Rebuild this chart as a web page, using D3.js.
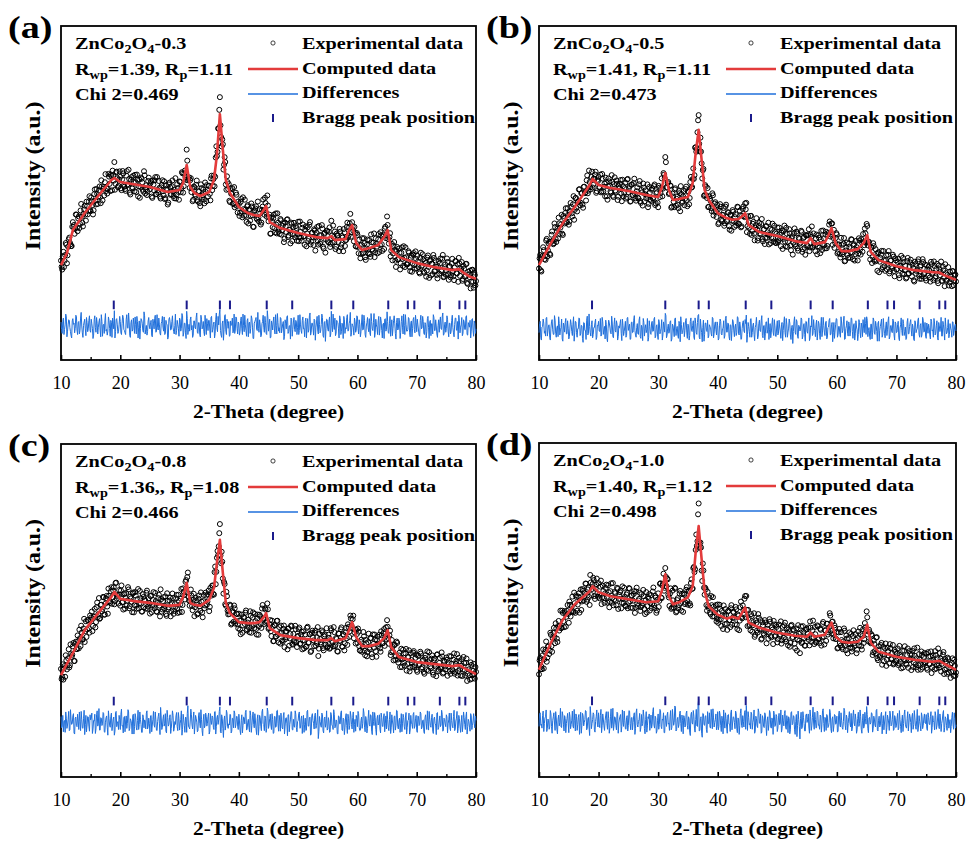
<!DOCTYPE html>
<html><head><meta charset="utf-8">
<script src="https://cdn.jsdelivr.net/npm/d3@7"></script>
<style>body{margin:0;background:#fff}svg{display:block}</style>
</head><body>
<svg id="chart" width="968" height="843"></svg>
<script>
// ---------------- data ----------------
const xTicks = [10, 20, 30, 40, 50, 60, 70, 80];
const xMinorTicks = [15, 25, 35, 45, 55, 65, 75];
const braggPositions = [18.9, 31.2, 36.8, 38.5, 44.7, 49.0, 55.6, 59.3, 65.2, 68.5, 69.6, 73.9, 77.2, 78.2];

const calcX = [10,11,12,14,16,18.5,19,20,22,25,28,30,30.6,31.2,31.8,32.5,33.5,35,35.8,36.3,36.8,37.3,37.8,38.5,40,41.5,42.5,43.5,44.2,44.6,45.2,47,50,53,55,55.6,56.2,58,58.6,59.1,59.8,60.8,62,63.5,64.5,65.1,65.7,67,70,73,76,77.2,78,79,80];
const calcA = [284,320,389,440,485,539,545,533,527,518,503,509,530,584,518,500,491,503,539,614,736,629,539,500,458,440,434,431,449,461,413,395,380,368,365,371,359,362,389,404,350,329,335,344,368,389,329,308,290,278,269,272,260,249,243];
const calcB = [284,317,350,410,458,524,542,524,515,506,494,488,515,560,509,479,482,488,530,620,689,599,509,479,440,425,420,422,432,440,404,383,371,356,350,365,347,353,374,395,350,326,326,332,350,374,323,299,281,269,263,262,254,247,240];
const calcC = [306,340,372,441,486,541,556,535,529,523,514,517,541,583,523,517,514,532,568,643,712,613,523,492,465,462,462,465,480,492,447,426,417,411,411,417,408,417,441,465,420,393,393,400,417,441,390,360,345,339,333,336,327,318,309];
const calcD = [321,362,402,471,517,556,571,553,541,532,523,526,556,607,541,517,523,538,571,673,751,652,556,511,486,474,480,474,495,508,462,447,432,423,420,432,420,426,447,462,420,405,402,405,420,456,402,375,360,351,345,348,339,330,321];

// differences (obs - calc), recorded in steps of DIFF_UNIT intensity units.
// diffX: points at 10.0, 10.2, ..., 80.0 ; diffX2: points at 10.1, 10.3, ..., 79.9
const DIFF_UNIT = 1.7;
const diffA = [
8,-12,15,-5,22,-18,3,11,-9,-20,14,6,-3,18,-14,9,-7,25,-11,2,13,-16,7,-4,19,
-10,5,-21,12,-2,16,-13,8,-6,21,-17,4,10,-8,-15,17,-3,11,-19,6,28,-9,14,-12,3,
9,-14,20,-5,-11,13,-2,24,-16,7,-8,15,-12,4,18,-20,10,-3,12,-7,26,-13,2,-9,16,
-4,11,-18,6,14,-10,21,-6,3,-15,9,-1,17,-12,5,-22,13,8,-5,19,-9,2,-14,11,-3,
15,-8,23,-17,6,-11,27,-14,4,12,-6,-19,10,-2,16,-10,7,-13,20,-4,9,-16,3,14,-7,
11,-20,18,-5,8,-12,24,-9,3,30,-15,6,-24,19,-8,13,-3,-17,10,4,-11,22,-6,15,-13,
5,-9,17,-14,2,20,-7,11,-18,8,-3,14,-21,6,12,-5,25,-10,3,-16,9,-1,18,-12,28,
-8,13,-19,4,10,-6,21,-13,7,-2,16,-11,5,-23,12,-4,19,-9,2,15,-17,8,-5,11,-14,
20,-7,3,-12,17,-3,9,-20,14,-6,24,-10,6,-15,11,-1,18,-13,4,-8,22,-16,7,-26,13,
-5,10,-18,27,-9,3,15,-12,8,-4,19,-14,6,-21,12,-2,16,-8,5,25,-11,2,-15,9,-6,
17,-13,4,-9,21,-5,11,-19,7,-2,14,-16,9,-7,23,-11,3,-14,18,-4,10,-20,6,13,-8,
26,-10,5,-17,12,-3,19,-12,7,-6,15,-21,9,-1,22,-14,4,-8,16,-11,6,-18,13,-5,20,
-9,3,-15,11,-4,18,-12,7,-20,14,-2,9,-16,5,21,-7,12,-13,2,-10,17,-5,24,-14,8,
-3,13,-18,6,-9,20,-11,4,15,-7,-22,10,-1,16,-12,8,-5,19,-15,3,11,-8,14,-17,6,
-4];
const diffA2 = [
-5,9,-14,3,17,-8,12,-2,-16,10,4,-11,20,-6,7,-13,15,1,-19,8,-4,16,-9,11,-7,
13,-3,-15,19,-10,6,-1,14,-18,9,2,-12,23,-5,-8,11,-17,7,15,-4,-20,12,3,-9,18,
-11,5,16,-7,-14,21,-3,8,-19,12,-6,4,17,-13,9,-2,-22,14,6,-10,19,-5,-15,10,1,
7,-16,13,-4,20,-9,-2,15,-12,5,18,-8,-14,11,3,-19,16,-6,9,-1,-13,22,-7,4,-17,
12,-3,19,-11,6,-21,14,-5,-8,17,2,-15,10,-4,24,-12,7,-18,13,-1,-9,20,-14,5,11,
-6,16,-10,4,-20,13,-2,18,22,-7,-19,10,-5,21,-14,6,9,-16,2,15,-8,-12,17,-3,8,
-15,11,-4,22,-9,3,-17,14,6,-12,19,-1,-21,9,16,-7,-3,12,-18,5,20,-10,7,-14,15,
4,-20,10,-6,17,-13,2,23,-8,-11,14,-3,9,-17,6,18,-12,1,-22,13,-5,16,-9,8,-2,
-14,21,-7,11,-4,-18,15,3,-10,19,-15,6,-1,13,-24,8,-6,20,-11,4,16,-19,9,-3,12,
-8,17,-13,2,22,-5,-16,11,7,-20,14,-9,3,18,-12,-4,21,-7,10,-17,5,-1,15,-10,19,
-3,12,-18,8,-6,20,-14,1,16,-9,-11,23,-4,7,-19,13,-2,10,-15,17,-7,4,-21,14,-5,
9,-12,18,-1,-16,11,6,-22,15,-4,8,-10,19,-13,2,21,-8,-5,14,-18,10,-3,16,-11,7,
13,-6,-17,20,-2,9,-14,4,-9,18,-21,11,5,-13,16,-7,1,-19,12,8,-4,17,-15,3,-10,
19,-8,6,-13,11,-2,-18,15,-6,9,20,-11,3,-16,12,-5,18,-14,7,-1,-20,13,-7,10,-12];
const diffB = [
-6,14,-19,5,11,-3,20,-12,7,-15,2,17,-9,24,-7,3,-13,10,-1,18,-21,6,12,-8,15,
-17,4,9,-11,22,-5,13,-14,1,19,-8,6,-23,11,-2,16,-10,27,-6,8,-15,3,12,-18,7,
14,-4,-12,21,-9,5,16,-16,2,11,-6,23,-13,8,-3,15,-19,6,10,-7,18,-11,4,-14,20,
-2,9,-17,13,-5,24,-10,3,-8,16,-13,7,-20,12,1,-6,19,-15,5,-9,14,-3,21,-12,8,
-18,11,-4,17,-10,6,28,-15,2,-7,13,-21,9,-3,18,-11,5,-16,10,22,-8,3,-13,15,-5,
9,-19,14,-2,7,-14,20,-6,12,26,-17,4,-22,16,-9,11,-4,-15,8,3,-12,19,-7,13,-10,
6,-16,18,-8,1,15,-11,23,-5,10,-19,7,-2,14,-13,9,-6,21,-10,4,-17,12,-3,17,25,
-9,5,-14,19,-6,11,-20,8,2,-12,16,-4,24,-15,7,-8,13,-1,-18,10,-5,20,-11,6,-13,
15,-7,4,-16,12,-2,22,-14,9,-5,18,-10,3,-25,13,-6,17,-12,7,-3,20,-17,8,-9,14,
-4,11,-20,6,24,-8,2,-13,16,-5,10,-18,21,-3,7,-11,14,-15,4,19,-9,12,-6,-16,9,
18,-10,5,-14,11,-2,23,-17,6,-7,13,-12,20,-4,8,-19,15,-1,-9,12,-15,4,17,-6,10,
22,-13,3,-18,9,-5,16,-9,7,-21,14,-2,11,-14,19,-7,4,-11,15,-17,6,-3,18,-10,13,
-6,8,-15,2,20,-11,10,-4,-18,13,-8,5,17,-12,3,-20,11,-1,16,-9,7,-14,21,-5,12,
-16,4,9,-10,18,-3,-14,11,-7,15,-19,6,2,-12,14,-5,20,-8,3,-15,10,-2,13,-11,7,
-3];
const diffB2 = [
10,-15,4,18,-7,-12,21,-3,8,-19,13,-1,-9,16,-14,6,22,-10,3,-17,11,-5,19,-8,2,
-13,17,-4,9,-21,14,-6,1,20,-11,7,-16,12,-2,-18,23,-7,5,-12,15,-9,3,18,-14,6,
-3,19,-10,13,-1,-17,8,-22,16,4,-8,11,-15,20,-5,9,-13,2,17,-20,7,-4,14,-11,21,
5,-18,12,-6,16,-2,-14,10,-9,22,-16,3,19,-12,8,-1,-21,15,-7,11,-4,18,-15,6,-10,
17,-8,2,-19,13,-5,24,-11,9,-3,15,-17,6,-13,20,1,-10,14,-22,8,-6,12,-2,19,-16,
7,-11,20,-4,15,-18,10,-9,25,-14,18,-6,3,-21,11,-2,16,-12,5,-8,21,-15,9,-1,13,
-19,6,14,-10,2,-16,19,-5,11,-13,8,-20,17,-3,4,-11,22,-8,13,-18,1,15,-6,10,-23,
12,-4,18,-14,7,-9,3,21,-17,10,-2,15,-11,6,-19,13,-7,20,-1,-15,9,-5,17,-12,4,
-10,16,-3,8,-20,12,-6,19,-14,2,11,-18,7,-4,22,-9,14,-16,5,-1,18,-12,10,-21,13,
-7,20,-15,4,-11,17,-2,9,-19,14,-8,6,-13,21,-5,11,-17,3,16,-10,8,-22,12,-3,19,
-14,5,-9,22,-6,13,-18,1,15,-12,7,-3,19,-16,10,-8,4,-20,17,-5,11,-13,2,21,-9,
16,-2,-12,9,-17,20,-7,14,-4,11,-21,5,18,-10,3,-15,13,-1,22,-13,7,-6,15,-19,10,
-5,14,-20,8,-2,17,-11,4,-16,19,-8,12,-3,9,-18,15,-6,1,20,-14,10,-9,16,-4,-12,
11,-7,3,-17,14,-1,19,-10,6,-15,12,-4,21,-12,8,-19,5,-6,17,-9,2,-14,13,-3,9];
const diffC = [
11,-7,-16,4,19,-10,6,-14,23,-3,12,-18,8,-5,15,-12,2,20,-9,7,-21,13,-4,10,-15,
5,17,-11,3,-19,14,-6,25,-13,8,-2,16,-17,9,-8,21,-4,11,-14,6,-22,18,-7,2,13,
-12,24,-5,9,-16,12,-1,19,-10,4,-20,15,-7,10,-13,22,-3,6,-17,14,-9,3,17,-11,8,
-19,13,-4,20,-8,5,-14,11,-2,27,-12,7,-6,16,-18,9,-3,14,-10,21,-15,2,12,-7,18,
-13,6,-22,15,-5,10,-17,30,-8,3,14,-11,19,-4,8,-16,12,-1,23,-14,5,-9,17,-6,11,
-20,16,-3,9,-12,20,-7,13,5,28,-18,8,-26,12,-5,17,-10,-4,14,-15,7,21,-9,11,-6,
15,-13,4,-18,10,-2,22,-11,6,-16,13,-5,19,-9,3,-21,14,-7,9,-14,24,-3,12,-17,26,
-10,7,-4,16,-19,11,-8,21,-2,13,-15,5,-11,18,-6,9,-23,14,-3,20,-12,6,-8,15,-16,
4,19,-9,12,-3,-17,8,-13,22,-6,10,-20,16,-1,13,-10,5,-28,11,-4,17,-14,7,-8,21,
-11,3,-16,14,-6,23,-9,5,-19,12,-2,18,-13,8,-21,10,-5,15,-12,20,-3,9,-17,6,13,
-7,16,-14,4,-10,25,-8,11,-18,7,-3,14,-15,19,-5,9,-22,13,-1,-11,17,-6,10,-16,12,
20,-9,6,-19,14,-4,11,-13,22,-7,3,-17,16,-2,9,-12,18,-8,5,-20,13,-3,15,-10,7,
-14,12,-5,19,-11,4,-16,9,-1,21,-13,6,-8,15,-19,10,-4,17,-12,3,-7,22,-15,8,-2,
14,-18,5,-9,17,-6,11,-14,3,20,-10,7,-17,13,-4,9,-12,19,-7,2,-15,12,-5,16,-9,
4];
const diffC2 = [
-9,13,2,-17,8,-4,20,-12,5,-1,16,-20,10,-7,3,19,-14,6,-10,22,-3,-16,11,-6,14,
8,-19,4,15,-11,21,-2,-13,9,-5,18,-16,1,12,-22,7,-8,17,-4,10,-15,20,-1,-12,6,
15,-6,-18,11,3,-10,23,-14,7,-2,13,-20,16,-8,4,-12,19,-3,-17,9,5,-11,21,-7,-1,
12,-16,6,-4,19,-13,2,17,-21,10,-8,14,-1,-15,22,-6,9,-19,4,13,-10,-3,18,-14,7,
-2,21,-12,5,-17,9,16,-7,-11,24,-4,8,-20,13,1,-14,18,-9,6,-23,15,-5,11,-1,17,
-15,4,12,-8,19,-20,9,-3,20,-16,14,-10,5,-13,22,-6,-2,15,-18,8,-9,17,-4,11,-12,
3,-21,14,-5,9,18,-13,1,-8,21,-17,10,-3,16,-11,7,-22,13,-6,19,-1,-14,8,-10,20,
-4,15,-12,6,-18,11,-7,22,-15,3,17,-9,12,-20,8,-2,14,-16,5,19,-13,-6,21,-8,2,
16,-10,7,-19,13,-3,-14,20,-6,9,-22,12,4,-11,17,-5,23,-15,2,-8,14,-18,10,-1,-13,
9,-17,18,-4,-12,15,-7,3,-20,11,-2,21,-14,6,-9,16,-19,8,-5,12,-11,19,-3,-15,7,
20,-8,-13,10,-1,17,-16,5,-10,22,-6,13,-21,2,18,-12,7,-4,14,-18,9,-7,16,-2,-11,
6,-14,19,-9,3,-18,12,-5,21,-11,8,-1,-16,15,-7,10,-20,4,17,-13,1,-10,18,-6,13,
-17,11,-3,16,-8,5,-19,14,-12,2,20,-5,9,-15,7,-1,-21,18,-9,12,-4,15,-13,6,-7,
10,-2,17,-14,4,-9,22,-11,8,-18,13,-6,1,-16,19,-3,11,-20,6,-8,16,-12,3,-1,12];
const diffD = [
-8,16,-4,11,-17,7,21,-12,3,-9,14,-20,9,-2,18,-13,5,-7,24,-10,12,-16,6,-3,15,
-19,10,-5,19,-11,2,14,-15,8,-22,17,-6,11,-1,20,-14,6,-9,27,-12,4,13,-18,9,-4,
16,-10,22,-7,5,-15,12,-3,18,-20,9,-11,24,-5,7,-14,15,-2,10,-18,21,-8,3,-13,11,
-6,19,-14,8,-1,16,-12,23,-9,4,-17,13,-3,10,-21,18,-7,6,-15,12,-4,25,-11,7,-16,
14,-5,20,-12,3,-19,11,-8,17,-2,9,-14,22,-6,28,-16,5,-10,15,-3,12,-21,8,-7,19,
-13,6,-24,17,-4,10,-18,22,-8,40,-15,9,-27,14,-6,11,-19,-3,16,-11,7,23,-9,4,-14,
18,-8,12,-17,3,21,-11,6,-20,13,-4,16,-14,9,-1,19,-12,7,-22,15,-6,11,-9,20,29,
-15,8,-3,17,-13,5,-20,10,-7,23,-2,14,-18,6,-10,12,-24,9,-4,16,-11,3,19,-8,13,
-17,7,-5,21,-12,2,15,-9,11,-19,6,-14,18,-3,9,-22,13,-6,4,-30,17,-10,8,-16,12,
-1,14,-20,9,-7,26,-13,4,-10,17,-5,12,-18,20,-3,8,-15,11,-8,22,-12,5,-17,13,-4,
10,-16,19,-9,3,-13,24,-6,12,-19,8,-2,15,-11,21,-7,4,-14,17,-3,9,-20,14,-8,6,
27,-12,7,-4,16,-18,10,-6,20,-14,3,-9,13,-21,11,-2,18,-10,6,-15,12,-5,19,-13,8,
-7,15,-11,4,-19,12,-3,21,-9,6,-16,14,-1,9,-13,20,-8,3,-17,11,-6,16,-12,7,-2,
13,-15,8,-5,18,-10,2,-14,11,-7,22,-12,5,-3,15,-18,9,-6,14,-11,4,-8,17,-13,6,
-5];
const diffD2 = [
14,-6,-11,19,-3,9,-17,5,-13,20,-8,2,16,-15,7,-21,12,-1,-9,18,-4,11,-19,6,-2,
17,-12,3,-8,22,-16,10,-5,13,-1,-20,15,-7,4,19,-11,8,-24,12,-3,16,-14,1,21,-9,
-4,11,-19,14,-7,2,18,-13,6,-10,23,-2,-15,9,-6,17,-20,5,13,-8,-1,19,-12,8,-16,
20,-3,7,-14,11,-22,16,-5,1,15,-10,-7,21,-12,4,-18,9,14,-2,-11,18,-6,10,-20,3,
-13,22,-8,5,16,-19,2,12,-4,-15,20,-10,7,-1,26,-14,8,-5,19,-17,3,11,-9,15,-6,
9,-18,13,-2,20,-11,4,-7,30,-16,6,-20,15,-5,10,-13,18,-3,-9,22,-12,7,-1,14,-8,
-14,19,-6,10,-21,3,16,-9,12,-4,-17,21,-2,8,-12,15,-19,5,-7,23,-10,1,17,-13,9,
18,-5,-12,14,-1,21,-16,6,-10,17,-3,-20,11,-8,16,-4,2,-15,20,-9,7,-22,13,-6,10,
-11,15,-2,-18,12,-7,20,-13,3,9,-21,16,-5,11,-14,1,-26,19,-8,6,-12,18,-3,-16,14,
4,-9,21,-15,8,-2,17,-11,19,-6,-13,10,-4,23,-17,5,13,-10,-1,16,-19,9,-7,12,-3,
-18,12,-5,16,-10,1,20,-14,7,-3,18,-9,-16,11,-2,14,-20,6,-8,21,-13,3,-11,17,-4,
13,-19,8,-1,15,-12,5,-9,22,-16,10,-6,17,-3,-14,9,-21,12,-2,19,-7,4,-15,11,-10,
6,-14,20,-8,2,-17,13,-4,-11,18,-2,9,-19,15,-5,7,-13,22,-9,1,-16,10,-6,14,-3,
-12,16,-4,9,-20,11,-1,18,-13,5,-8,14,-17,3,20,-10,6,-15,12,-2,-19,8,-5,16,-11];

const panelLetters = ["(a)", "(b)", "(c)", "(d)"];
const sampleSuffix = ["-0.3", "-0.5", "-0.8", "-1.0"];
const rwpValues = ["=1.39, ", "=1.41, ", "=1.36,, ", "=1.40, "];
const rpValues = ["=1.11", "=1.11", "=1.08", "=1.12"];
const chiValues = ["Chi 2=0.469", "Chi 2=0.473", "Chi 2=0.466", "Chi 2=0.498"];
const legendLabels = ["Experimental data", "Computed data", "Differences", "Bragg peak position"];
const diffOffsets = [100, 92, 163, 165];
const braggLevels = [165, 165, 228, 228];
const calcSeries = [calcA, calcB, calcC, calcD];
const diffSeries = [diffA, diffB, diffC, diffD];
const diffSeries2 = [diffA2, diffB2, diffC2, diffD2];

// ---------------- layout ----------------
const panels = [
  {L: 61, R: 476, T: 26, B: 360},
  {L: 539, R: 956, T: 26, B: 360},
  {L: 61, R: 476, T: 444, B: 777},
  {L: 539, R: 956, T: 443, B: 777}
];
const FONT = "'Liberation Serif','Times New Roman',Times,serif";
const SX = 1.19;
const RED = "#e33b3b", BLUE = "#1f6fdb", NAVY = "#1b1b8c";

const svg = d3.select("#chart");

function stretchText(parent, x, y, opts) {
  const g = parent.append("g")
    .attr("transform", `translate(${x},${y})${opts.rotate ? ` rotate(${opts.rotate})` : ""} scale(${opts.sx || SX},1)`);
  return g.append("text")
    .attr("font-family", FONT)
    .attr("font-weight", opts.weight || "bold")
    .attr("font-size", opts.size || 17)
    .attr("text-anchor", opts.anchor || "start")
    .attr("fill", "#000");
}

panels.forEach((p, k) => {
  const g = svg.append("g");
  const x = d3.scaleLinear().domain([10, 80]).range([p.L, p.R]);
  const y = d3.scaleLinear().domain([0, 1000]).range([p.B, p.T]);
  const calc = calcSeries[k];
  const diff = diffSeries[k];
  const diff2 = diffSeries2[k];
  const calcAt = d3.scaleLinear().domain(calcX).range(calc);
  const pts = [];
  diff.forEach((d, i) => {
    const xv = 10 + i * 0.2;
    const dv = d * DIFF_UNIT;
    pts.push({x: xv, d: dv, obs: calcAt(xv) + dv});
    if (i < diff2.length) {
      const xv2 = 10.1 + i * 0.2;
      const dv2 = diff2[i] * DIFF_UNIT;
      pts.push({x: xv2, d: dv2, obs: calcAt(xv2) + dv2});
    }
  });

  // frame
  g.append("rect").attr("x", p.L).attr("y", p.T)
    .attr("width", p.R - p.L).attr("height", p.B - p.T)
    .attr("fill", "#fff").attr("stroke", "#000").attr("stroke-width", 1.8);

  // experimental points
  g.append("g").selectAll("circle").data(pts).join("circle")
    .attr("cx", d => x(d.x)).attr("cy", d => y(d.obs)).attr("r", 2.5)
    .attr("fill", "none").attr("stroke", "#000").attr("stroke-width", 1.0);

  // computed line
  g.append("path")
    .datum(calcX.map((xv, i) => [xv, calc[i]]))
    .attr("fill", "none").attr("stroke", RED).attr("stroke-width", 2.6)
    .attr("stroke-linejoin", "round")
    .attr("d", d3.line().x(d => x(d[0])).y(d => y(d[1])));

  // difference line
  g.append("path").datum(pts)
    .attr("fill", "none").attr("stroke", BLUE).attr("stroke-width", 1)
    .attr("d", d3.line().x(d => x(d.x)).y(d => y(diffOffsets[k] + d.d)));

  // Bragg ticks
  g.append("g").selectAll("rect").data(braggPositions).join("rect")
    .attr("x", d => x(d) - 1).attr("y", y(braggLevels[k] + 13))
    .attr("width", 2).attr("height", y(braggLevels[k] - 13) - y(braggLevels[k] + 13))
    .attr("fill", NAVY);

  // axes (inward ticks)
  const ax = g.append("g").attr("transform", `translate(0,${p.B})`)
    .call(d3.axisBottom(x).tickValues(xTicks).tickSizeInner(-5).tickSizeOuter(0).tickPadding(16).tickFormat(d3.format("d")));
  ax.select(".domain").remove();
  ax.selectAll("line").attr("stroke", "#000").attr("stroke-width", 1.6);
  ax.selectAll("text").attr("font-family", FONT).attr("font-size", 18).attr("fill", "#000");
  const axm = g.append("g").attr("transform", `translate(0,${p.B})`)
    .call(d3.axisBottom(x).tickValues(xMinorTicks).tickSizeInner(-3).tickSizeOuter(0).tickFormat(""));
  axm.select(".domain").remove();
  axm.selectAll("line").attr("stroke", "#000").attr("stroke-width", 1.4);

  // axis titles
  stretchText(g, (p.L + p.R) / 2, p.B + 58, {size: 18, anchor: "middle"}).text("2-Theta (degree)");
  stretchText(g, p.L - 21, (p.T + p.B) / 2 - 17, {size: 20, anchor: "middle", rotate: -90}).text("Intensity (a.u.)");

  // panel letter
  stretchText(g, p.L - 53, p.T + 12, {size: 32}).text(panelLetters[k]);

  // sample info
  const t1 = stretchText(g, p.L + 14, p.T + 23, {size: 17});
  t1.append("tspan").text("ZnCo");
  t1.append("tspan").attr("font-size", 12).attr("dy", 4).text("2");
  t1.append("tspan").attr("dy", -4).text("O");
  t1.append("tspan").attr("font-size", 12).attr("dy", 4).text("4");
  t1.append("tspan").attr("dy", -4).text(sampleSuffix[k]);

  const t2 = stretchText(g, p.L + 14, p.T + 49, {size: 17});
  t2.append("tspan").text("R");
  t2.append("tspan").attr("font-size", 12).attr("dy", 4).text("wp");
  t2.append("tspan").attr("dy", -4).text(rwpValues[k] + "R");
  t2.append("tspan").attr("font-size", 12).attr("dy", 4).text("p");
  t2.append("tspan").attr("dy", -4).text(rpValues[k]);

  stretchText(g, p.L + 14, p.T + 74, {size: 17}).text(chiValues[k]);

  // legend
  g.append("circle").attr("cx", p.L + 212).attr("cy", p.T + 17).attr("r", 2.1)
    .attr("fill", "#fff").attr("stroke", "#111").attr("stroke-width", 0.8);
  g.append("line").attr("x1", p.L + 187).attr("x2", p.L + 237)
    .attr("y1", p.T + 43).attr("y2", p.T + 43).attr("stroke", RED).attr("stroke-width", 2.4);
  g.append("line").attr("x1", p.L + 187).attr("x2", p.L + 237)
    .attr("y1", p.T + 68).attr("y2", p.T + 68).attr("stroke", BLUE).attr("stroke-width", 1.4);
  g.append("rect").attr("x", p.L + 211).attr("y", p.T + 88).attr("width", 2).attr("height", 8).attr("fill", NAVY);
  const legY = [23, 48, 72, 97];
  legendLabels.forEach((lab, i) => {
    stretchText(g, p.L + 241, p.T + legY[i], {size: 17}).text(lab);
  });
});
</script>
</body></html>
